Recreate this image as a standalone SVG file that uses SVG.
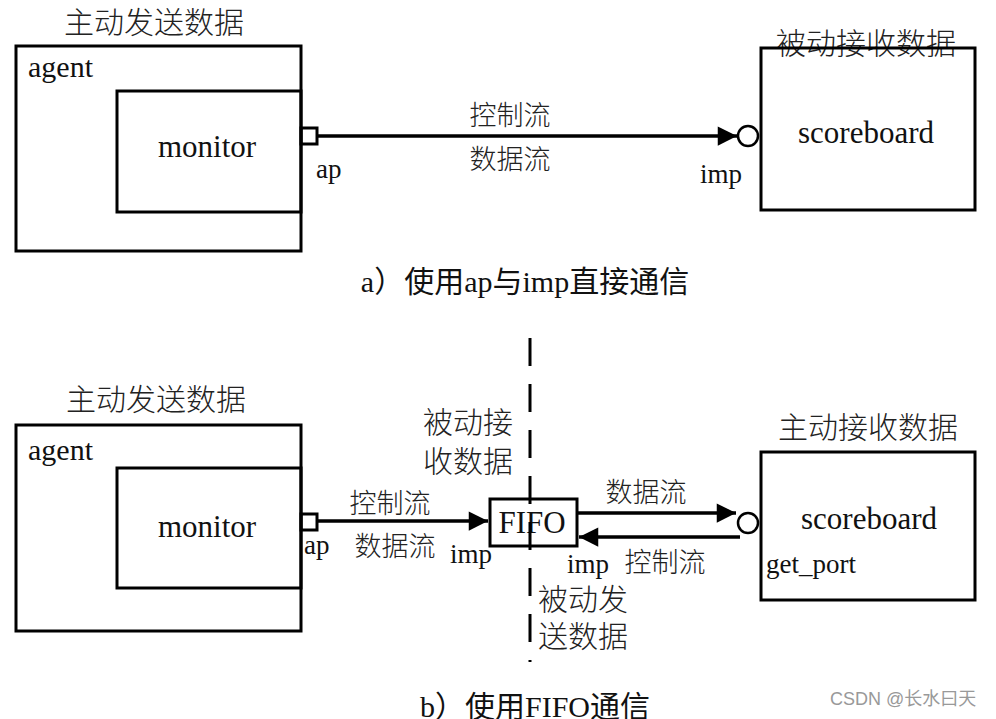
<svg xmlns="http://www.w3.org/2000/svg" width="996" height="719" viewBox="0 0 996 719">
<defs>
<style>
.box{fill:none;stroke:#000;stroke-width:3}
.ln{fill:none;stroke:#000;stroke-width:3.5}
.t{font-family:"Liberation Serif","Noto Sans CJK SC",serif;fill:#111}
.c{font-family:"Noto Sans CJK SC","Liberation Serif",sans-serif;fill:#222;font-weight:300}
.big{font-size:31px}
.ti{font-size:30px}
.mid{font-size:30px}
.sm{font-size:27px}
.lb{font-size:27px}
</style>
<marker id="ah" viewBox="0 0 10 10" refX="10" refY="5" markerWidth="8" markerHeight="5.5" markerUnits="strokeWidth" orient="auto">
<path d="M0,0 L10,5 L0,10 Z" fill="#000"/>
</marker>
</defs>
<rect width="996" height="719" fill="#fff"/>

<!-- Part a -->
<g id="agent-a">
<text class="c ti" x="154" y="33" text-anchor="middle">主动发送数据</text>
<rect class="box" x="16" y="46" width="285" height="205"/>
<text class="t mid" x="28" y="77">agent</text>
</g>
<g id="monitor-a">
<rect class="box" x="117" y="91" width="184" height="121"/>
<text class="t big" x="207" y="157" text-anchor="middle">monitor</text>
</g>
<g id="ap-a">
<rect class="box" x="301" y="128" width="16" height="16"/>
<text class="t sm" x="316" y="178">ap</text>
</g>
<g id="scoreboard-a">
<text class="c ti" x="866" y="54" text-anchor="middle">被动接收数据</text>
<rect class="box" x="761" y="48" width="214" height="162"/>
<text class="t big" x="866" y="143" text-anchor="middle">scoreboard</text>
<circle cx="748" cy="136" r="10" fill="#fff" stroke="#000" stroke-width="2.5"/>
<text class="t sm" x="700" y="183">imp</text>
</g>
<g id="conn-a">
<line class="ln" x1="317" y1="136" x2="737" y2="136" marker-end="url(#ah)"/>
<text class="c lb" x="510" y="125" text-anchor="middle">控制流</text>
<text class="c lb" x="510" y="169" text-anchor="middle">数据流</text>
</g>
<text class="t ti" x="525" y="292" text-anchor="middle">a）使用ap与imp直接通信</text>

<!-- Part b -->
<g id="agent-b">
<text class="c ti" x="156" y="410" text-anchor="middle">主动发送数据</text>
<rect class="box" x="16" y="425" width="285" height="206"/>
<text class="t mid" x="28" y="460">agent</text>
</g>
<g id="monitor-b">
<rect class="box" x="117" y="468" width="184" height="120"/>
<text class="t big" x="207" y="537" text-anchor="middle">monitor</text>
</g>
<g id="ap-b">
<rect class="box" x="301" y="514" width="16" height="16"/>
<text class="t sm" x="304" y="554">ap</text>
</g>
<g id="fifo">
<rect class="box" x="490" y="499" width="87" height="47"/>
<text class="t big" x="532" y="533" text-anchor="middle">FIFO</text>
<text class="t sm" x="450" y="563">imp</text>
<text class="t sm" x="567" y="573">imp</text>
</g>
<g id="scoreboard-b">
<text class="c ti" x="868" y="438" text-anchor="middle">主动接收数据</text>
<rect class="box" x="761" y="452" width="214" height="148"/>
<text class="t big" x="869" y="529" text-anchor="middle">scoreboard</text>
<text class="t sm" x="766" y="573">get_port</text>
<circle cx="748" cy="523" r="10" fill="#fff" stroke="#000" stroke-width="2.5"/>
</g>
<g id="labels-b">
<text class="c ti" x="468" y="433" text-anchor="middle">被动接</text>
<text class="c ti" x="468" y="472" text-anchor="middle">收数据</text>
<text class="c ti" x="583" y="610" text-anchor="middle">被动发</text>
<text class="c ti" x="583" y="647" text-anchor="middle">送数据</text>
</g>
<g id="conn-b">
<line x1="530" y1="338" x2="530" y2="662" stroke="#000" stroke-width="3" stroke-dasharray="28,18"/>
<line class="ln" x1="317" y1="521" x2="488" y2="521" marker-end="url(#ah)"/>
<line class="ln" x1="577" y1="513" x2="736" y2="513" marker-end="url(#ah)"/>
<line class="ln" x1="740" y1="537" x2="579" y2="537" marker-end="url(#ah)"/>
<text class="c lb" x="390" y="513" text-anchor="middle">控制流</text>
<text class="c lb" x="395" y="556" text-anchor="middle">数据流</text>
<text class="c lb" x="646" y="502" text-anchor="middle">数据流</text>
<text class="c lb" x="665" y="572" text-anchor="middle">控制流</text>
</g>
<text class="t ti" x="535" y="717" text-anchor="middle">b）使用FIFO通信</text>
<text x="830" y="705" font-family="'Liberation Sans','Noto Sans CJK SC',sans-serif" font-size="18" fill="#999">CSDN @长水曰天</text>
</svg>
